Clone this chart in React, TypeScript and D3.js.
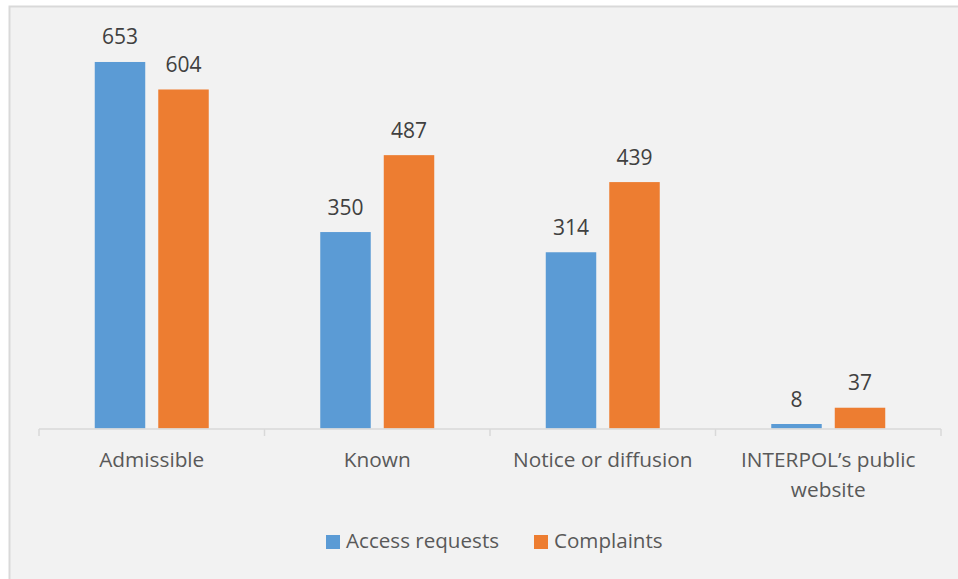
import * as d3 from 'd3';

const categories = ['Admissible', 'Known', 'Notice or diffusion', 'INTERPOL\u2019s public website'];
const categoryLines = [['Admissible'], ['Known'], ['Notice or diffusion'], ['INTERPOL\u2019s public', 'website']];
const seriesNames = ['Access requests', 'Complaints'];
const accessRequests = [653, 350, 314, 8];
const complaints = [604, 487, 439, 37];
const colors = ['#5b9bd5', '#ed7d31'];

const W = 958;
const H = 579;
const font = '"Open Sans", sans-serif';

export default function App() {
  const x = d3.scaleBand<string>().domain(categories).range([39, 941]);
  const inner = d3.scaleBand<string>()
    .domain(seriesNames)
    .range([0, x.bandwidth()])
    .paddingInner(0.205)
    .paddingOuter(0.878);
  const y = d3.scaleLinear().domain([0, 700]).range([428.5, 35.6]);

  const values = [accessRequests, complaints];
  const ticks = [...categories.map(c => x(c)!), 941];

  return (
    <svg width={W} height={H} style={{ position: 'absolute', left: 0, top: 0 }}>
      <rect x={0} y={0} width={W} height={H} fill="#ffffff" />
      <rect x={9.5} y={6.5} width={W + 10} height={H + 10} fill="#f2f2f2" stroke="#d9d9d9" strokeWidth={2} />

      {seriesNames.map((s, si) =>
        categories.map((c, ci) => {
          const v = values[si][ci];
          const bx = x(c)! + inner(s)!;
          return (
            <g key={s + c}>
              <rect x={bx} y={y(v)} width={inner.bandwidth()} height={y(0) - y(v)} fill={colors[si]} />
              <text x={bx + inner.bandwidth() / 2} y={y(v) - 17.5} textAnchor="middle"
                fontFamily={font} fontSize={21} fill="#404040">{v}</text>
            </g>
          );
        })
      )}

      <line x1={39} x2={941} y1={429} y2={429} stroke="#d9d9d9" strokeWidth={1.5} />
      {ticks.map((t, i) => (
        <line key={i} x1={t} x2={t} y1={429} y2={436} stroke="#d9d9d9" strokeWidth={1.5} />
      ))}

      {categories.map((c, ci) => (
        <text key={c} x={x(c)! + x.bandwidth() / 2} y={467} textAnchor="middle"
          fontFamily={font} fontSize={20.8} fill="#595959">
          {categoryLines[ci].map((l, li) => (
            <tspan key={li} x={x(c)! + x.bandwidth() / 2} y={467 + li * 30}>{l}</tspan>
          ))}
        </text>
      ))}

      {seriesNames.map((s, si) => {
        const lx = si === 0 ? 326 : 534;
        return (
          <g key={s}>
            <rect x={lx} y={535} width={14} height={14} fill={colors[si]} />
            <text x={lx + 20} y={548} fontFamily={font} fontSize={20.6} fill="#595959">{s}</text>
          </g>
        );
      })}
    </svg>
  );
}
